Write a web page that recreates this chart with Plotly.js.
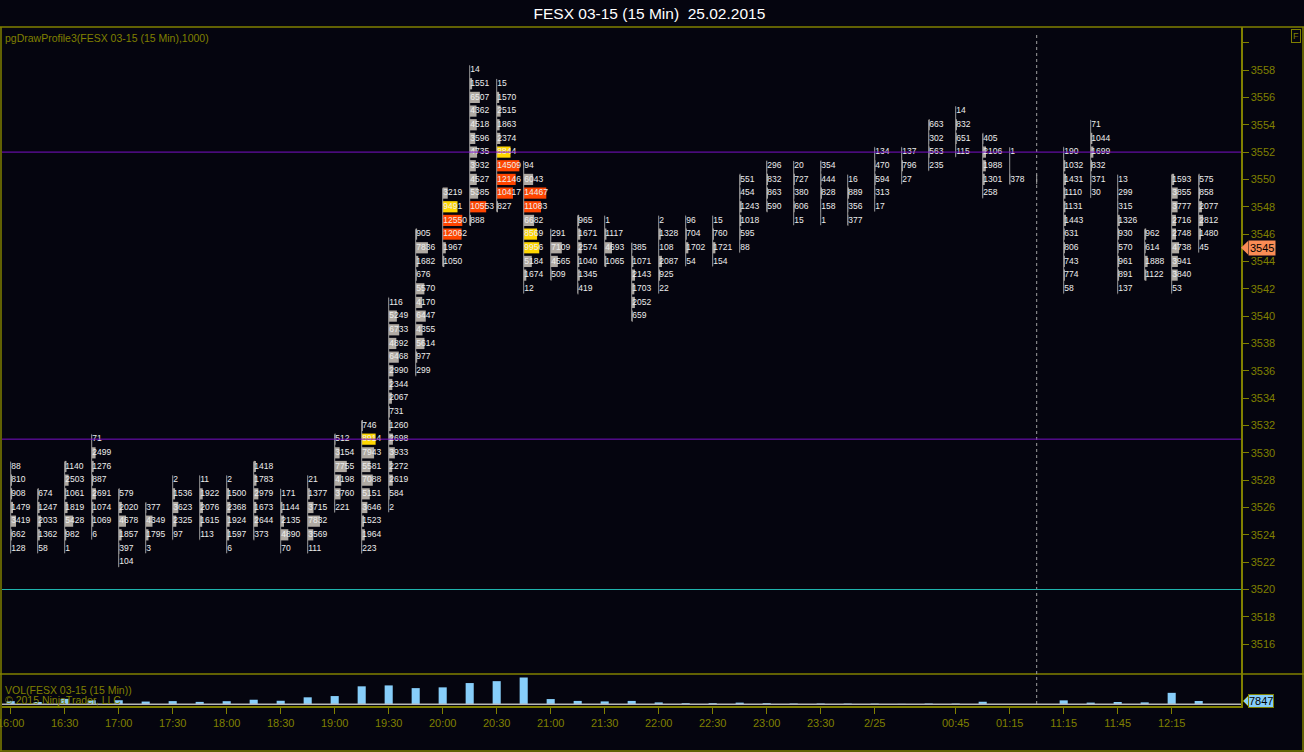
<!DOCTYPE html>
<html>
<head>
<meta charset="utf-8">
<script src="https://cdn.plot.ly/plotly-3.0.1.min.js"></script>
<style>
  html, body { margin: 0; padding: 0; background: #05050f; }
  #chart { width: 1304px; height: 752px; }
</style>
</head>
<body>
<div id="chart"></div>
<script>
/* FESX 03-15, 15 min bars, volume-at-price profile per bar + volume pane */

// top price of every bar's profile (rows go down 1 point each)
var TOP_PRICE = [3529, 3527, 3529, 3531, 3527, 3526, 3528, 3528, 3528, 3529,
                 3527, 3528, 3531, 3532, 3541, 3546, 3549, 3558, 3557, 3551,
                 3546, 3547, 3547, 3545, 3547, 3547, 3547, 3550, 3551, 3551,
                 3551, 3550, 3552, 3552, 3554, 3555, 3553, 3552, 3550, 3552,
                 3554, 3550, 3546, 3550, 3550];

// volume at each price, top row first (null = no print)
var PROFILE = [
  [88, 810, 908, 1479, 3419, 662, 128],
  [674, 1247, 2033, 1362, 58],
  [1140, 2503, 1061, 1819, 5428, 982, 1],
  [71, 2499, 1276, 887, 2691, 1074, 1069, 6],
  [579, 2020, 4678, 1857, 397, 104],
  [377, 4349, 1795, 3],
  [2, 1536, 3623, 2325, 97],
  [11, 1922, 2076, 1615, 113],
  [2, 1500, 2368, 1924, 1597, 6],
  [1418, 1783, 2979, 1673, 2644, 373],
  [171, 1144, 2135, 4890, 70],
  [21, 1377, 3715, 7832, 3569, 111],
  [512, 3154, 7755, 4198, 3760, 221],
  [746, 8914, 7943, 5581, 7088, 5151, 3646, 1523, 1964, 223],
  [116, 5249, 6733, 4892, 6468, 2990, 2344, 2067, 731, 1260, 2698, 3933, 2272, 2619, 584, 2],
  [905, 7836, 1682, 676, 5570, 4170, 6447, 4355, 5614, 977, 299],
  [3219, 9491, 12550, 12062, 1967, 1050],
  [14, 1551, 6507, 4362, 4518, 3596, 4735, 3932, 4527, 5385, 10553, 888],
  [15, 1570, 2515, 1863, 2374, 8844, 14509, 12146, 10417, 827],
  [94, 6043, 14467, 11083, 6682, 8569, 9956, 5184, 1674, 12],
  [291, 7109, 4565, 509],
  [965, 1671, 2574, 1040, 1345, 419],
  [1, 1117, 4693, 1065],
  [385, 1071, 2143, 1703, 2052, 659],
  [2, 1328, 108, 2087, 925, 22],
  [96, 704, 1702, 54],
  [15, 760, 1721, 154],
  [551, 454, 1243, 1018, 595, 88],
  [296, 832, 863, 590],
  [20, 727, 380, 606, 15],
  [354, 444, 828, 158, 1],
  [16, 889, 356, 377],
  [134, 470, 594, 313, 17],
  [137, 796, 27],
  [663, 302, 563, 235],
  [14, 832, 651, 115],
  [405, 2106, 1988, 1301, 258],
  [1, null, 378],
  [null],
  [190, 1032, 1431, 1110, 1131, 1443, 631, 806, 743, 774, 58],
  [71, 1044, 1699, 832, 371, 30],
  [13, 299, 315, 1326, 930, 570, 961, 891, 137],
  [962, 614, 1888, 1122],
  [1593, 3855, 3777, 2716, 2748, 4738, 3941, 3840, 53],
  [575, 858, 2077, 2812, 1480, 45]
];

// the session-break bar has no printed profile, only a sliver of volume
var BREAK_BAR = 38;
var BREAK_BAR_VOL = 300;

var TIME_TICKS  = [0, 2, 4, 6, 8, 10, 12, 14, 16, 18, 20, 22, 24, 26, 28, 30, 32, 35, 37, 39, 41, 43];
var TIME_LABELS = ["16:00", "16:30", "17:00", "17:30", "18:00", "18:30", "19:00", "19:30", "20:00",
                   "20:30", "21:00", "21:30", "22:00", "22:30", "23:00", "23:30", "2/25", "00:45",
                   "01:15", "11:15", "11:45", "12:15"];
var PRICE_TICKS = [3516, 3518, 3520, 3522, 3524, 3526, 3528, 3530, 3532, 3534, 3536, 3538, 3540,
                   3542, 3544, 3546, 3548, 3550, 3552, 3554, 3556, 3558, 3560];
var PURPLE_LEVELS = [3552, 3531];
var TEAL_LEVEL = 3520;
var LAST_PRICE = 3545;

var OLIVE = "#808000";
var BG = "#05050f";
var FONT = "Liberation Sans, Arial, sans-serif";

// pixel helpers for the frame (plot box is x 2..1241, y 27..706)
function px(x) { return (x - 2) / 1239; }
function py(y) { return (706 - y) / 679; }

/* ---- build the profile cells ---- */
var cellX = [], cellY = [], cellT = [];
var boxBase = [], boxY = [], boxLen = [], boxCol = [];
var colX = [], colY = [];
var volume = [];
PROFILE.forEach(function (rows, i) {
  var top = TOP_PRICE[i];
  var sum = 0;
  rows.forEach(function (v, r) {
    var p = top - r;
    if (v === null) return;
    sum += v;
    cellX.push(i + 0.02); cellY.push(p); cellT.push(String(v));
    boxBase.push(i); boxY.push(p);
    boxLen.push(v / 640 / 27);
    boxCol.push(v >= 10000 ? "#ff4500" : (v >= 8000 ? "#ffd700" : "#b0aaa3"));
  });
  colX.push(i, i, null);
  colY.push(top + 0.35, top - rows.length + 1 - 0.35, null);
  volume.push(i === BREAK_BAR ? BREAK_BAR_VOL : sum);
});
var barIdx = volume.map(function (_, i) { return i; });
var lastVol = volume[volume.length - 1];

var traces = [
  { type: "bar", orientation: "h", x: boxLen, y: boxY, base: boxBase, width: 0.82,
    marker: { color: boxCol, line: { width: 0 } }, xaxis: "x", yaxis: "y", hoverinfo: "skip" },
  { type: "scatter", mode: "lines", x: colX, y: colY, line: { color: "#9a9a9a", width: 1 },
    xaxis: "x", yaxis: "y", hoverinfo: "skip", connectgaps: false },
  { type: "scatter", mode: "text", x: cellX, y: cellY, text: cellT, textposition: "middle right",
    textfont: { family: FONT, size: 8.5, color: "#ededed" }, cliponaxis: false,
    xaxis: "x", yaxis: "y", hoverinfo: "skip" },
  { type: "bar", x: barIdx, y: volume, width: 0.3, marker: { color: "#87cefa", line: { width: 0 } },
    xaxis: "x", yaxis: "y2", hoverinfo: "skip" }
];

/* ---- frame, levels and session break ---- */
var shapes = [
  { type: "line", xref: "paper", yref: "paper", x0: px(0), x1: px(1304), y0: py(27), y1: py(27), line: { color: OLIVE, width: 1.5 } },
  { type: "line", xref: "paper", yref: "paper", x0: px(0), x1: px(1304), y0: py(674), y1: py(674), line: { color: OLIVE, width: 1.5 } },
  { type: "line", xref: "paper", yref: "paper", x0: px(0), x1: px(1304), y0: py(751), y1: py(751), line: { color: OLIVE, width: 1.5 } },
  { type: "line", xref: "paper", yref: "paper", x0: px(1), x1: px(1), y0: py(27), y1: py(751), line: { color: OLIVE, width: 1.5 } },
  { type: "line", xref: "paper", yref: "paper", x0: px(1303), x1: px(1303), y0: py(27), y1: py(751), line: { color: OLIVE, width: 1.5 } },
  { type: "line", xref: "x", yref: "paper", x0: BREAK_BAR, x1: BREAK_BAR, y0: py(704), y1: py(35),
    line: { color: "#a0a0a0", width: 1, dash: "3px,3px" } },
  { type: "line", xref: "paper", yref: "y2", x0: 0, x1: 1, y0: 0, y1: 0, line: { color: "#b8b8b8", width: 1.5 } },
  { type: "line", xref: "paper", yref: "y", x0: 0, x1: 1, y0: TEAL_LEVEL, y1: TEAL_LEVEL, layer: "above",
    line: { color: "#1fb3ac", width: 1.2 } },
  // last-price and last-volume pointers on the right axis
  { type: "path", xref: "paper", yref: "y", layer: "above",
    path: "M " + px(1241) + " " + LAST_PRICE + " L " + px(1248) + " " + (LAST_PRICE + 0.5) +
          " L " + px(1248) + " " + (LAST_PRICE - 0.5) + " Z",
    fillcolor: "#fa8c55", line: { width: 0 } },
  { type: "path", xref: "paper", yref: "paper", layer: "above",
    path: "M " + px(1243) + " " + py(701) + " L " + px(1249) + " " + py(695) +
          " L " + px(1249) + " " + py(707) + " Z",
    fillcolor: "#87cefa", line: { color: OLIVE, width: 1 } }
];
PURPLE_LEVELS.forEach(function (lv) {
  shapes.push({ type: "line", xref: "paper", yref: "y", x0: 0, x1: 1, y0: lv, y1: lv,
    layer: "above", line: { color: "#7a10c8", width: 1 } });
});

var annotations = [
  { xref: "paper", yref: "paper", x: px(3), y: py(38), xanchor: "left", yanchor: "middle", showarrow: false,
    text: "pgDrawProfile3(FESX 03-15 (15 Min),1000)", font: { family: FONT, size: 10.5, color: OLIVE } },
  { xref: "paper", yref: "paper", x: px(3), y: py(690), xanchor: "left", yanchor: "middle", showarrow: false,
    text: "VOL(FESX 03-15 (15 Min))", font: { family: FONT, size: 10.5, color: OLIVE } },
  { xref: "paper", yref: "paper", x: px(3), y: py(700), xanchor: "left", yanchor: "middle", showarrow: false,
    text: "© 2015 NinjaTrader, LLC", font: { family: FONT, size: 10.5, color: OLIVE } },
  { xref: "paper", yref: "paper", x: px(1296), y: py(36), xanchor: "center", yanchor: "middle", showarrow: false,
    text: "F", font: { family: FONT, size: 9, color: OLIVE }, bordercolor: OLIVE, borderwidth: 1, borderpad: 1 },
  { xref: "paper", yref: "y", x: px(1248), y: LAST_PRICE, xanchor: "left", yanchor: "middle", showarrow: false,
    text: String(LAST_PRICE), font: { family: FONT, size: 11, color: "#000000" }, bgcolor: "#fa8c55", borderpad: 1 },
  { xref: "paper", yref: "paper", x: px(1248), y: py(701), xanchor: "left", yanchor: "middle", showarrow: false,
    text: String(lastVol), font: { family: FONT, size: 11, color: "#000000" }, bgcolor: "#87cefa",
    bordercolor: OLIVE, borderwidth: 1, borderpad: 0 }
];

var layout = {
  width: 1304, height: 752,
  paper_bgcolor: BG, plot_bgcolor: BG,
  margin: { l: 2, r: 63, t: 27, b: 46 },
  showlegend: false, hovermode: false, barmode: "overlay",
  title: { text: "FESX 03-15 (15 Min) \u00a025.02.2015", xref: "container", x: 0.498, y: 1 - 14 / 752,
    xanchor: "center", yanchor: "middle", font: { family: FONT, size: 15.5, color: "#ffffff" } },
  xaxis: { range: [-0.322, 45.567], anchor: "y2", showgrid: false, zeroline: false,
    tickmode: "array", tickvals: TIME_TICKS, ticktext: TIME_LABELS, ticks: "outside", ticklen: 6,
    tickcolor: OLIVE, showline: true, linecolor: OLIVE, linewidth: 1.5, ticklabeloverflow: "allow",
    tickfont: { family: FONT, size: 11, color: OLIVE } },
  yaxis: { domain: [py(674), 1], range: [3513.82, 3561.15], side: "right", anchor: "x",
    showgrid: false, zeroline: false, tickmode: "array", tickvals: PRICE_TICKS,
    ticktext: PRICE_TICKS.map(function (p) { return p === 3560 ? "" : String(p); }),
    ticks: "outside", ticklen: 6, tickcolor: OLIVE, showline: true, linecolor: OLIVE, linewidth: 1.5,
    tickfont: { family: FONT, size: 11, color: OLIVE } },
  yaxis2: { domain: [0, py(674)], range: [-4046, 72100], side: "right", anchor: "x",
    showgrid: false, zeroline: false, showticklabels: false, ticks: "",
    showline: true, linecolor: OLIVE, linewidth: 1.5 },
  shapes: shapes,
  annotations: annotations
};

Plotly.newPlot("chart", traces, layout, { displayModeBar: false, staticPlot: true });
</script>
</body>
</html>
